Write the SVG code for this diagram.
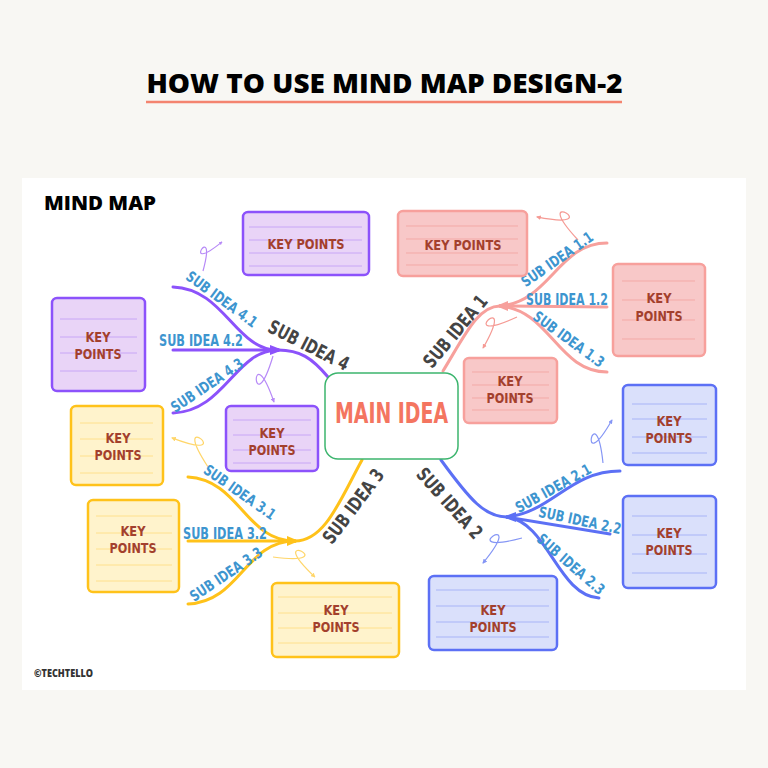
<svg xmlns="http://www.w3.org/2000/svg" width="768" height="768" viewBox="0 0 768 768">
<style>
.hand{font-family:"DejaVu Sans Condensed","Liberation Sans Narrow",Roboto,"DejaVu Sans",sans-serif;font-weight:bold}
.kp{fill:#a3402d;font-size:14px;text-anchor:middle}
.sub{fill:#3d95cf;font-size:15px;text-anchor:middle}
.dark{fill:#444444;font-size:19px;text-anchor:middle}
.box{stroke-width:2.5}
.pb{fill:#e9d4f7;stroke:#8c52fb}
.rb{fill:#f8c8c8;stroke:#f7a09c}
.bb{fill:#dae0fb;stroke:#5c70f5}
.yb{fill:#fff3cc;stroke:#ffc21a}
.rule{stroke-width:1;fill:none}
.pl{stroke:#c8a6f6}
.rl{stroke:#f3a9a6}
.bl{stroke:#a8b4f7}
.yl{stroke:#ffe08c}
.con{fill:none;stroke-width:3;stroke-linecap:round}
.curl{fill:none;stroke-width:1.2;vector-effect:non-scaling-stroke}
</style>
<defs>
<marker id="ap" viewBox="0 0 6 6" refX="5" refY="3" markerWidth="4" markerHeight="4" orient="auto" markerUnits="userSpaceOnUse"><path d="M0,0 L6,3 L0,6 z" fill="#b78af7"/></marker>
<marker id="ar" viewBox="0 0 6 6" refX="5" refY="3" markerWidth="4" markerHeight="4" orient="auto" markerUnits="userSpaceOnUse"><path d="M0,0 L6,3 L0,6 z" fill="#f59a94"/></marker>
<marker id="ab" viewBox="0 0 6 6" refX="5" refY="3" markerWidth="4" markerHeight="4" orient="auto" markerUnits="userSpaceOnUse"><path d="M0,0 L6,3 L0,6 z" fill="#8596f5"/></marker>
<marker id="ay" viewBox="0 0 6 6" refX="5" refY="3" markerWidth="4" markerHeight="4" orient="auto" markerUnits="userSpaceOnUse"><path d="M0,0 L6,3 L0,6 z" fill="#ffd66a"/></marker>
</defs>

<rect x="0" y="0" width="768" height="768" fill="#f8f7f3"/>
<rect x="22" y="178" width="724" height="512" fill="#ffffff"/>

<g id="title">
<text x="384.5" y="93" font-family="'Open Sans','Liberation Sans',sans-serif" font-weight="800" font-size="27" text-anchor="middle" textLength="476" lengthAdjust="spacingAndGlyphs" fill="#000">HOW TO USE MIND MAP DESIGN-2</text>
<line x1="146" y1="102" x2="622" y2="102" stroke="#f4846f" stroke-width="2.5"/>
</g>
<text x="44" y="210" font-family="'Open Sans','Liberation Sans',sans-serif" font-weight="800" font-size="20" textLength="112" lengthAdjust="spacingAndGlyphs" fill="#000">MIND MAP</text>
<text x="34" y="677" font-family="'Open Sans','Liberation Sans',sans-serif" font-weight="800" font-size="10" textLength="59" lengthAdjust="spacingAndGlyphs" fill="#333">©TECHTELLO</text>

<g id="connectors">
<path class="con" stroke="#8c52fb" d="M278,350 C300,350 312,358 328,377"/>
<path class="con" stroke="#8c52fb" d="M173,287 C225,289 235,350 278,350"/>
<path class="con" stroke="#8c52fb" d="M173,350 L278,350"/>
<path class="con" stroke="#8c52fb" d="M173,413 C225,411 235,350 278,350"/>
<polygon points="270,345 283,350 270,355" fill="#8c52fb"/>

<path class="con" stroke="#f7a09c" d="M443,371 C465,335 478,306 500,306"/>
<path class="con" stroke="#f7a09c" d="M500,306 C550,302 558,243 607,243"/>
<path class="con" stroke="#f7a09c" d="M500,306 L607,307"/>
<path class="con" stroke="#f7a09c" d="M500,306 C550,310 558,372 607,372"/>
<polygon points="508,301 496,306 508,311" fill="#f7a09c"/>

<path class="con" stroke="#5c70f5" d="M441,460 C470,500 485,517 507,517"/>
<path class="con" stroke="#5c70f5" d="M507,517 C552,512 570,471 620,471"/>
<path class="con" stroke="#5c70f5" d="M507,517 L610,534"/>
<path class="con" stroke="#5c70f5" d="M507,517 C548,522 558,596 599,598"/>
<polygon points="516,512 503,517 516,522" fill="#5c70f5"/>

<path class="con" stroke="#ffc21a" d="M362,460 C340,500 325,541 295,541"/>
<path class="con" stroke="#ffc21a" d="M188,477 C240,480 245,541 295,541"/>
<path class="con" stroke="#ffc21a" d="M188,541 L295,541"/>
<path class="con" stroke="#ffc21a" d="M188,604 C240,602 245,541 295,541"/>
<polygon points="287,536 299,541 287,546" fill="#ffc21a"/>

<path class="curl" stroke="#b78af7" marker-end="url(#ap)" transform="translate(203,271) rotate(-56.8) scale(0.87)" d="M0,0 C62,-20 -22,-20 40,0"/>
<path class="curl" stroke="#b78af7" marker-end="url(#ap)" transform="translate(273,356) rotate(88.8) scale(1.15,-1.15)" d="M0,0 C62,-20 -22,-20 40,0"/>
<path class="curl" stroke="#f59a94" marker-end="url(#ar)" transform="translate(578,240) rotate(-150.7) scale(1.18,-1.18)" d="M0,0 C62,-20 -22,-20 40,0"/>
<path class="curl" stroke="#f59a94" marker-end="url(#ar)" transform="translate(517,317) rotate(137.6) scale(1.15,-1.15)" d="M0,0 C62,-20 -22,-20 40,0"/>
<path class="curl" stroke="#8596f5" marker-end="url(#ab)" transform="translate(603,463) rotate(-78.2) scale(1.1)" d="M0,0 C62,-20 -22,-20 40,0"/>
<path class="curl" stroke="#8596f5" marker-end="url(#ab)" transform="translate(522,538) rotate(147.3) scale(1.16,-1.16)" d="M0,0 C62,-20 -22,-20 40,0"/>
<path class="curl" stroke="#ffd66a" marker-end="url(#ay)" transform="translate(208,467) rotate(-141.1) scale(1.16,-1.16)" d="M0,0 C62,-20 -22,-20 40,0"/>
<path class="curl" stroke="#ffd66a" marker-end="url(#ay)" transform="translate(273,557) rotate(25.5) scale(1.16)" d="M0,0 C62,-20 -22,-20 40,0"/>
</g>

<g id="labels" class="hand">
<text class="dark" transform="translate(309,345) rotate(27)" y="7" textLength="88" lengthAdjust="spacingAndGlyphs">SUB IDEA 4</text>
<text class="dark" transform="translate(455,331) rotate(-50)" y="7" textLength="88" lengthAdjust="spacingAndGlyphs">SUB IDEA 1</text>
<text class="dark" transform="translate(450,503) rotate(48)" y="7" textLength="88" lengthAdjust="spacingAndGlyphs">SUB IDEA 2</text>
<text class="dark" transform="translate(353,506) rotate(-53)" y="7" textLength="88" lengthAdjust="spacingAndGlyphs">SUB IDEA 3</text>

<text class="sub" transform="translate(222,299) rotate(36)" y="5.5" textLength="84" lengthAdjust="spacingAndGlyphs">SUB IDEA 4.1</text>
<text class="sub" x="201" y="346" textLength="84" lengthAdjust="spacingAndGlyphs">SUB IDEA 4.2</text>
<text class="sub" transform="translate(207,385) rotate(-34)" y="5.5" textLength="84" lengthAdjust="spacingAndGlyphs">SUB IDEA 4.3</text>

<text class="sub" transform="translate(557,259) rotate(-35)" y="5.5" textLength="84" lengthAdjust="spacingAndGlyphs">SUB IDEA 1.1</text>
<text class="sub" x="567" y="305" textLength="82" lengthAdjust="spacingAndGlyphs">SUB IDEA 1.2</text>
<text class="sub" transform="translate(569,339) rotate(36)" y="5.5" textLength="84" lengthAdjust="spacingAndGlyphs">SUB IDEA 1.3</text>

<text class="sub" transform="translate(553,488) rotate(-29)" y="5.5" textLength="84" lengthAdjust="spacingAndGlyphs">SUB IDEA 2.1</text>
<text class="sub" transform="translate(580,520) rotate(12)" y="5.5" textLength="84" lengthAdjust="spacingAndGlyphs">SUB IDEA 2.2</text>
<text class="sub" transform="translate(571,564) rotate(41)" y="5.5" textLength="84" lengthAdjust="spacingAndGlyphs">SUB IDEA 2.3</text>

<text class="sub" transform="translate(240,492) rotate(35)" y="5.5" textLength="84" lengthAdjust="spacingAndGlyphs">SUB IDEA 3.1</text>
<text class="sub" x="225" y="539" textLength="84" lengthAdjust="spacingAndGlyphs">SUB IDEA 3.2</text>
<text class="sub" transform="translate(226,574) rotate(-34)" y="5.5" textLength="84" lengthAdjust="spacingAndGlyphs">SUB IDEA 3.3</text>
</g>

<g id="main-idea">
<rect x="325" y="373" width="133" height="86" rx="13" fill="#ffffff" stroke="#3cb56e" stroke-width="1.5"/>
<text class="hand" x="391.5" y="423" font-size="29" fill="#f47560" text-anchor="middle" textLength="113" lengthAdjust="spacingAndGlyphs">MAIN IDEA</text>
</g>

<g id="kp-p1">
<rect class="box pb" x="243" y="212" width="126" height="63" rx="5"/>
<path class="rule pl" d="M249,227H362M249,240H362M249,253H362M249,266H362"/>
<text class="hand kp" x="306" y="249" textLength="77" lengthAdjust="spacingAndGlyphs">KEY POINTS</text>
</g>
<g id="kp-p2">
<rect class="box pb" x="52" y="298" width="93" height="93" rx="5"/>
<path class="rule pl" d="M60,319H137M60,337H137M60,353H137M60,371H137"/>
<text class="hand kp" x="98" y="342" textLength="25" lengthAdjust="spacingAndGlyphs">KEY</text>
<text class="hand kp" x="98" y="359" textLength="47" lengthAdjust="spacingAndGlyphs">POINTS</text>
</g>
<g id="kp-p3">
<rect class="box pb" x="226" y="406" width="92" height="65" rx="5"/>
<path class="rule pl" d="M233,420H311M233,435H311M233,450H311M233,463H311"/>
<text class="hand kp" x="272" y="438" textLength="25" lengthAdjust="spacingAndGlyphs">KEY</text>
<text class="hand kp" x="272" y="455" textLength="47" lengthAdjust="spacingAndGlyphs">POINTS</text>
</g>

<g id="kp-r1">
<rect class="box rb" x="398" y="211" width="129" height="65" rx="5"/>
<path class="rule rl" d="M406,226H518M406,239H518M406,253H518M406,265H518"/>
<text class="hand kp" x="463" y="250" textLength="77" lengthAdjust="spacingAndGlyphs">KEY POINTS</text>
</g>
<g id="kp-r2">
<rect class="box rb" x="613" y="264" width="92" height="92" rx="5"/>
<path class="rule rl" d="M622,281H695M622,300H695M622,320H695M622,339H695"/>
<text class="hand kp" x="659" y="303" textLength="25" lengthAdjust="spacingAndGlyphs">KEY</text>
<text class="hand kp" x="659" y="321" textLength="47" lengthAdjust="spacingAndGlyphs">POINTS</text>
</g>
<g id="kp-r3">
<rect class="box rb" x="464" y="358" width="93" height="65" rx="5"/>
<path class="rule rl" d="M472,372H549M472,385H549M472,398H549M472,410H549"/>
<text class="hand kp" x="510" y="386" textLength="25" lengthAdjust="spacingAndGlyphs">KEY</text>
<text class="hand kp" x="510" y="403" textLength="47" lengthAdjust="spacingAndGlyphs">POINTS</text>
</g>

<g id="kp-b1">
<rect class="box bb" x="623" y="385" width="93" height="80" rx="5"/>
<path class="rule bl" d="M632,404H707M632,419H707M632,437H707M632,453H707"/>
<text class="hand kp" x="669" y="426" textLength="25" lengthAdjust="spacingAndGlyphs">KEY</text>
<text class="hand kp" x="669" y="443" textLength="47" lengthAdjust="spacingAndGlyphs">POINTS</text>
</g>
<g id="kp-b2">
<rect class="box bb" x="623" y="496" width="93" height="92" rx="5"/>
<path class="rule bl" d="M632,516H707M632,535H707M632,554H707M632,573H707"/>
<text class="hand kp" x="669" y="538" textLength="25" lengthAdjust="spacingAndGlyphs">KEY</text>
<text class="hand kp" x="669" y="555" textLength="47" lengthAdjust="spacingAndGlyphs">POINTS</text>
</g>
<g id="kp-b3">
<rect class="box bb" x="429" y="576" width="128" height="74" rx="5"/>
<path class="rule bl" d="M436,590H549M436,606H549M436,622H549M436,637H549"/>
<text class="hand kp" x="493" y="615" textLength="25" lengthAdjust="spacingAndGlyphs">KEY</text>
<text class="hand kp" x="493" y="632" textLength="47" lengthAdjust="spacingAndGlyphs">POINTS</text>
</g>

<g id="kp-y1">
<rect class="box yb" x="71" y="406" width="92" height="79" rx="5"/>
<path class="rule yl" d="M80,423H153M80,439H153M80,456H153M80,473H153"/>
<text class="hand kp" x="118" y="443" textLength="25" lengthAdjust="spacingAndGlyphs">KEY</text>
<text class="hand kp" x="118" y="460" textLength="47" lengthAdjust="spacingAndGlyphs">POINTS</text>
</g>
<g id="kp-y2">
<rect class="box yb" x="88" y="500" width="91" height="92" rx="5"/>
<path class="rule yl" d="M96,516H172M96,533H172M96,549H172M96,565H172M96,581H172"/>
<text class="hand kp" x="133" y="536" textLength="25" lengthAdjust="spacingAndGlyphs">KEY</text>
<text class="hand kp" x="133" y="553" textLength="47" lengthAdjust="spacingAndGlyphs">POINTS</text>
</g>
<g id="kp-y3">
<rect class="box yb" x="272" y="583" width="127" height="74" rx="5"/>
<path class="rule yl" d="M278,597H392M278,613H392M278,628H392M278,643H392"/>
<text class="hand kp" x="336" y="615" textLength="25" lengthAdjust="spacingAndGlyphs">KEY</text>
<text class="hand kp" x="336" y="632" textLength="47" lengthAdjust="spacingAndGlyphs">POINTS</text>
</g>
</svg>
